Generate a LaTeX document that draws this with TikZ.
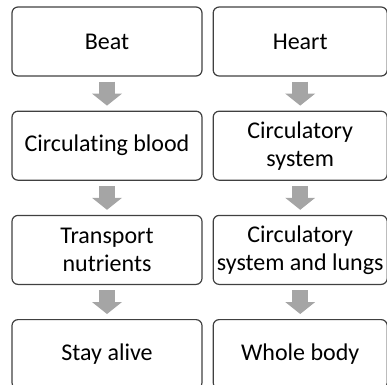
\documentclass[tikz,border=0pt]{standalone}
\usepackage{fontspec}
\setmainfont{Carlito}[Ligatures=NoCommon]
\usepackage{tikz}
\usetikzlibrary{positioning,arrows.meta}
\definecolor{boxline}{RGB}{64,64,64}
\definecolor{arrowgray}{RGB}{165,165,165}

\begin{document}
\begin{tikzpicture}[
    x=1pt, y=1pt,
    node distance=34pt,
    box/.style={draw=boxline, line width=1.2pt, rounded corners=6pt, minimum height=69pt, inner sep=2pt, align=center, font=\fontsize{24}{28}\selectfont},
    leftbox/.style={box, minimum width=190pt},
    rightbox/.style={box, minimum width=174pt},
    arrow/.style={draw=arrowgray, line width=16pt, -{Triangle[width=30pt, length=12pt, line width=0pt, fill=arrowgray]}, shorten <=5pt, shorten >=5pt}
  ]
    \useasboundingbox (0,0) rectangle (387,-384);
    \node[leftbox] (beat) at (107,-41.5) {Beat};
    \node[leftbox, below=of beat] (blood) {Circulating blood};
    \node[leftbox, below=of blood] (nutr) {Transport\\nutrients};
    \node[leftbox, below=of nutr] (alive) {Stay alive};
    \node[rightbox, right=10pt of beat] (heart) {Heart};
    \node[rightbox, below=of heart] (sys) {Circulatory\\system};
    \node[rightbox, below=of sys] (lungs) {Circulatory\\system and lungs};
    \node[rightbox, below=of lungs] (body) {Whole body};
    \draw[arrow] (beat) -- (blood);
    \draw[arrow] (blood) -- (nutr);
    \draw[arrow] (nutr) -- (alive);
    \draw[arrow] (heart) -- (sys);
    \draw[arrow] (sys) -- (lungs);
    \draw[arrow] (lungs) -- (body);
  \end{tikzpicture}
\end{document}
